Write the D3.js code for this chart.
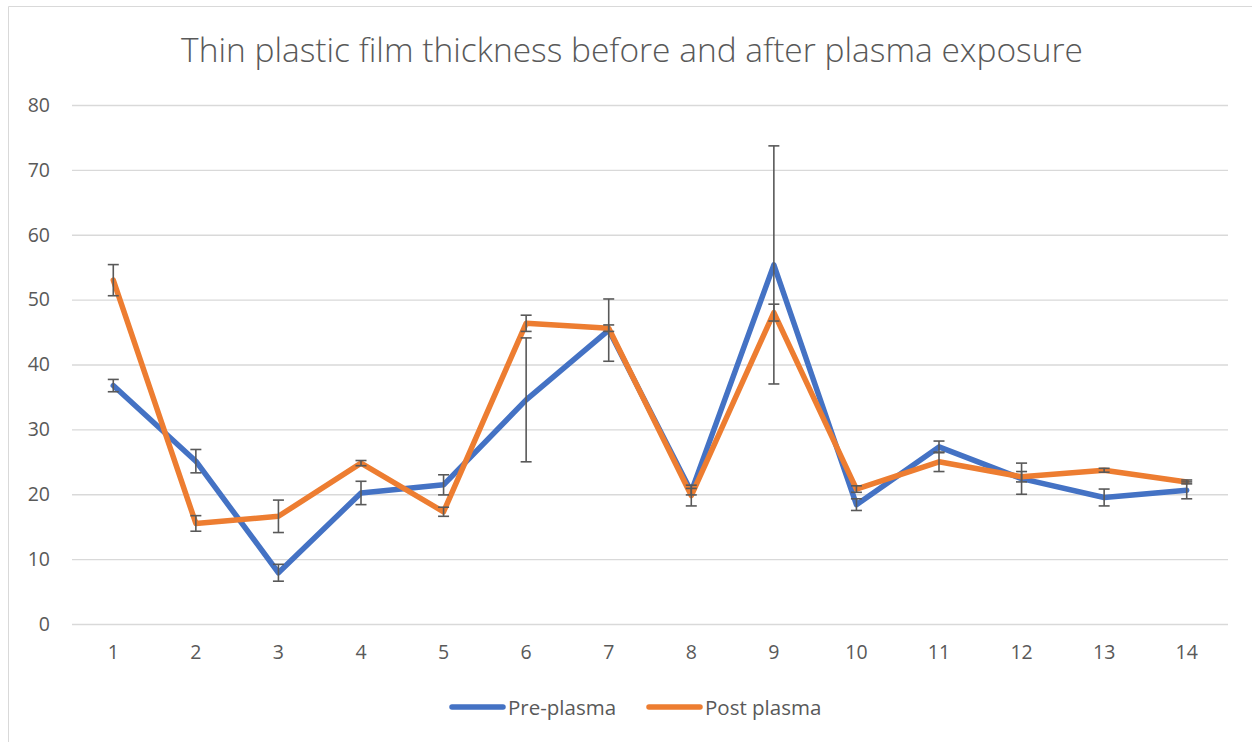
<!DOCTYPE html>
<html>
<head>
<meta charset="utf-8">
<script src="https://cdn.jsdelivr.net/npm/d3@7"></script>
<style>
  html, body { margin: 0; padding: 0; background: #fff; }
  svg text { font-family: "Open Sans", "Liberation Sans", sans-serif; fill: #595959; }
</style>
</head>
<body>
<svg id="chart" width="1252" height="742"></svg>
<script>
const title = "Thin plastic film thickness before and after plasma exposure";
const categories = ["1","2","3","4","5","6","7","8","9","10","11","12","13","14"];
const yTicks = [0, 10, 20, 30, 40, 50, 60, 70, 80];
const seriesNames = ["Pre-plasma", "Post plasma"];
const preValues  = [36.75, 25.1, 7.9, 20.2, 21.45, 34.55, 45.3, 20.4, 55.35, 18.4, 27.3, 22.4, 19.5, 20.6];
const preErrors  = [0.95, 1.8, 1.3, 1.8, 1.55, 9.55, 4.8, 0.5, 18.35, 0.9, 0.9, 2.4, 1.3, 1.3];
const postValues = [53.0, 15.5, 16.6, 24.8, 17.3, 46.35, 45.6, 19.8, 48.0, 20.8, 25.0, 22.7, 23.7, 21.9];
const postErrors = [2.4, 1.2, 2.5, 0.4, 0.7, 1.25, 0.5, 1.6, 1.3, 0.5, 1.5, 0.8, 0.3, 0.3];
const colors = ["#4472C4", "#ED7D31"];

(function () {
const svg = d3.select("#chart");

// outer chart border (only top and left visible)
svg.append("line").attr("x1", 8.5).attr("x2", 1252).attr("y1", 6.5).attr("y2", 6.5)
  .attr("stroke", "#d9d9d9").attr("stroke-width", 1);
svg.append("line").attr("x1", 8.5).attr("x2", 8.5).attr("y1", 6.5).attr("y2", 742)
  .attr("stroke", "#d9d9d9").attr("stroke-width", 1);

const pLeft = 72, pRight = 1228, pTop = 105, pBottom = 624;
const x = d3.scaleBand().domain(categories).range([pLeft, pRight]);
const y = d3.scaleLinear().domain([0, 80]).range([pBottom, pTop]);
const cx = c => x(c) + x.bandwidth() / 2;

// title
svg.append("text").attr("x", 632).attr("y", 62).attr("text-anchor", "middle")
  .style("font-size", "33.5px").style("font-weight", 300).style("fill", "#595959")
  .text(title);

// gridlines + y labels
const yAxis = d3.axisLeft(y).tickValues(yTicks).tickSize(-(pRight - pLeft)).tickPadding(22).tickFormat(d3.format("d"));
const gy = svg.append("g").attr("transform", `translate(${pLeft},0)`).call(yAxis);
gy.select(".domain").remove();
gy.selectAll(".tick line").attr("stroke", "#d9d9d9").attr("stroke-width", 1.3);
gy.selectAll(".tick text").style("font-size", "19.5px").style("fill", "#595959");
gy.attr("font-family", null);

// x axis labels
const xAxis = d3.axisBottom(x).tickSize(0).tickPadding(21);
const gx = svg.append("g").attr("transform", `translate(0,${pBottom})`).call(xAxis);
gx.select(".domain").remove();
gx.selectAll(".tick text").style("font-size", "19.5px").style("fill", "#595959");
gx.attr("font-family", null);

const series = [
  { name: seriesNames[0], values: preValues, errors: preErrors, color: colors[0] },
  { name: seriesNames[1], values: postValues, errors: postErrors, color: colors[1] }
];

const line = d3.line().x((d, i) => cx(categories[i])).y(d => y(d));
series.forEach(s => {
  svg.append("path").datum(s.values).attr("d", line)
    .attr("fill", "none").attr("stroke", s.color).attr("stroke-width", 5.5)
    .attr("stroke-linejoin", "round").attr("stroke-linecap", "round");
});

// error bars
series.forEach(s => {
  const g = svg.append("g");
  s.values.forEach((v, i) => {
    const px = cx(categories[i]);
    const e = s.errors[i];
    g.append("line").attr("x1", px).attr("x2", px).attr("y1", y(v - e)).attr("y2", y(v + e))
      .attr("stroke", "#595959").attr("stroke-width", 1.6);
    [v - e, v + e].forEach(t => {
      g.append("line").attr("x1", px - 5.5).attr("x2", px + 5.5).attr("y1", y(t)).attr("y2", y(t))
        .attr("stroke", "#595959").attr("stroke-width", 1.6);
    });
  });
});

// legend
const legendItems = [
  { name: seriesNames[0], color: colors[0], x: 452 },
  { name: seriesNames[1], color: colors[1], x: 649 }
];
legendItems.forEach(l => {
  svg.append("line").attr("x1", l.x).attr("x2", l.x + 51).attr("y1", 707).attr("y2", 707)
    .attr("stroke", l.color).attr("stroke-width", 5.5).attr("stroke-linecap", "round");
  svg.append("text").attr("x", l.x + 56).attr("y", 714.5).style("font-size", "20.5px")
    .style("fill", "#595959").text(l.name);
});
})();
</script>
</body>
</html>
